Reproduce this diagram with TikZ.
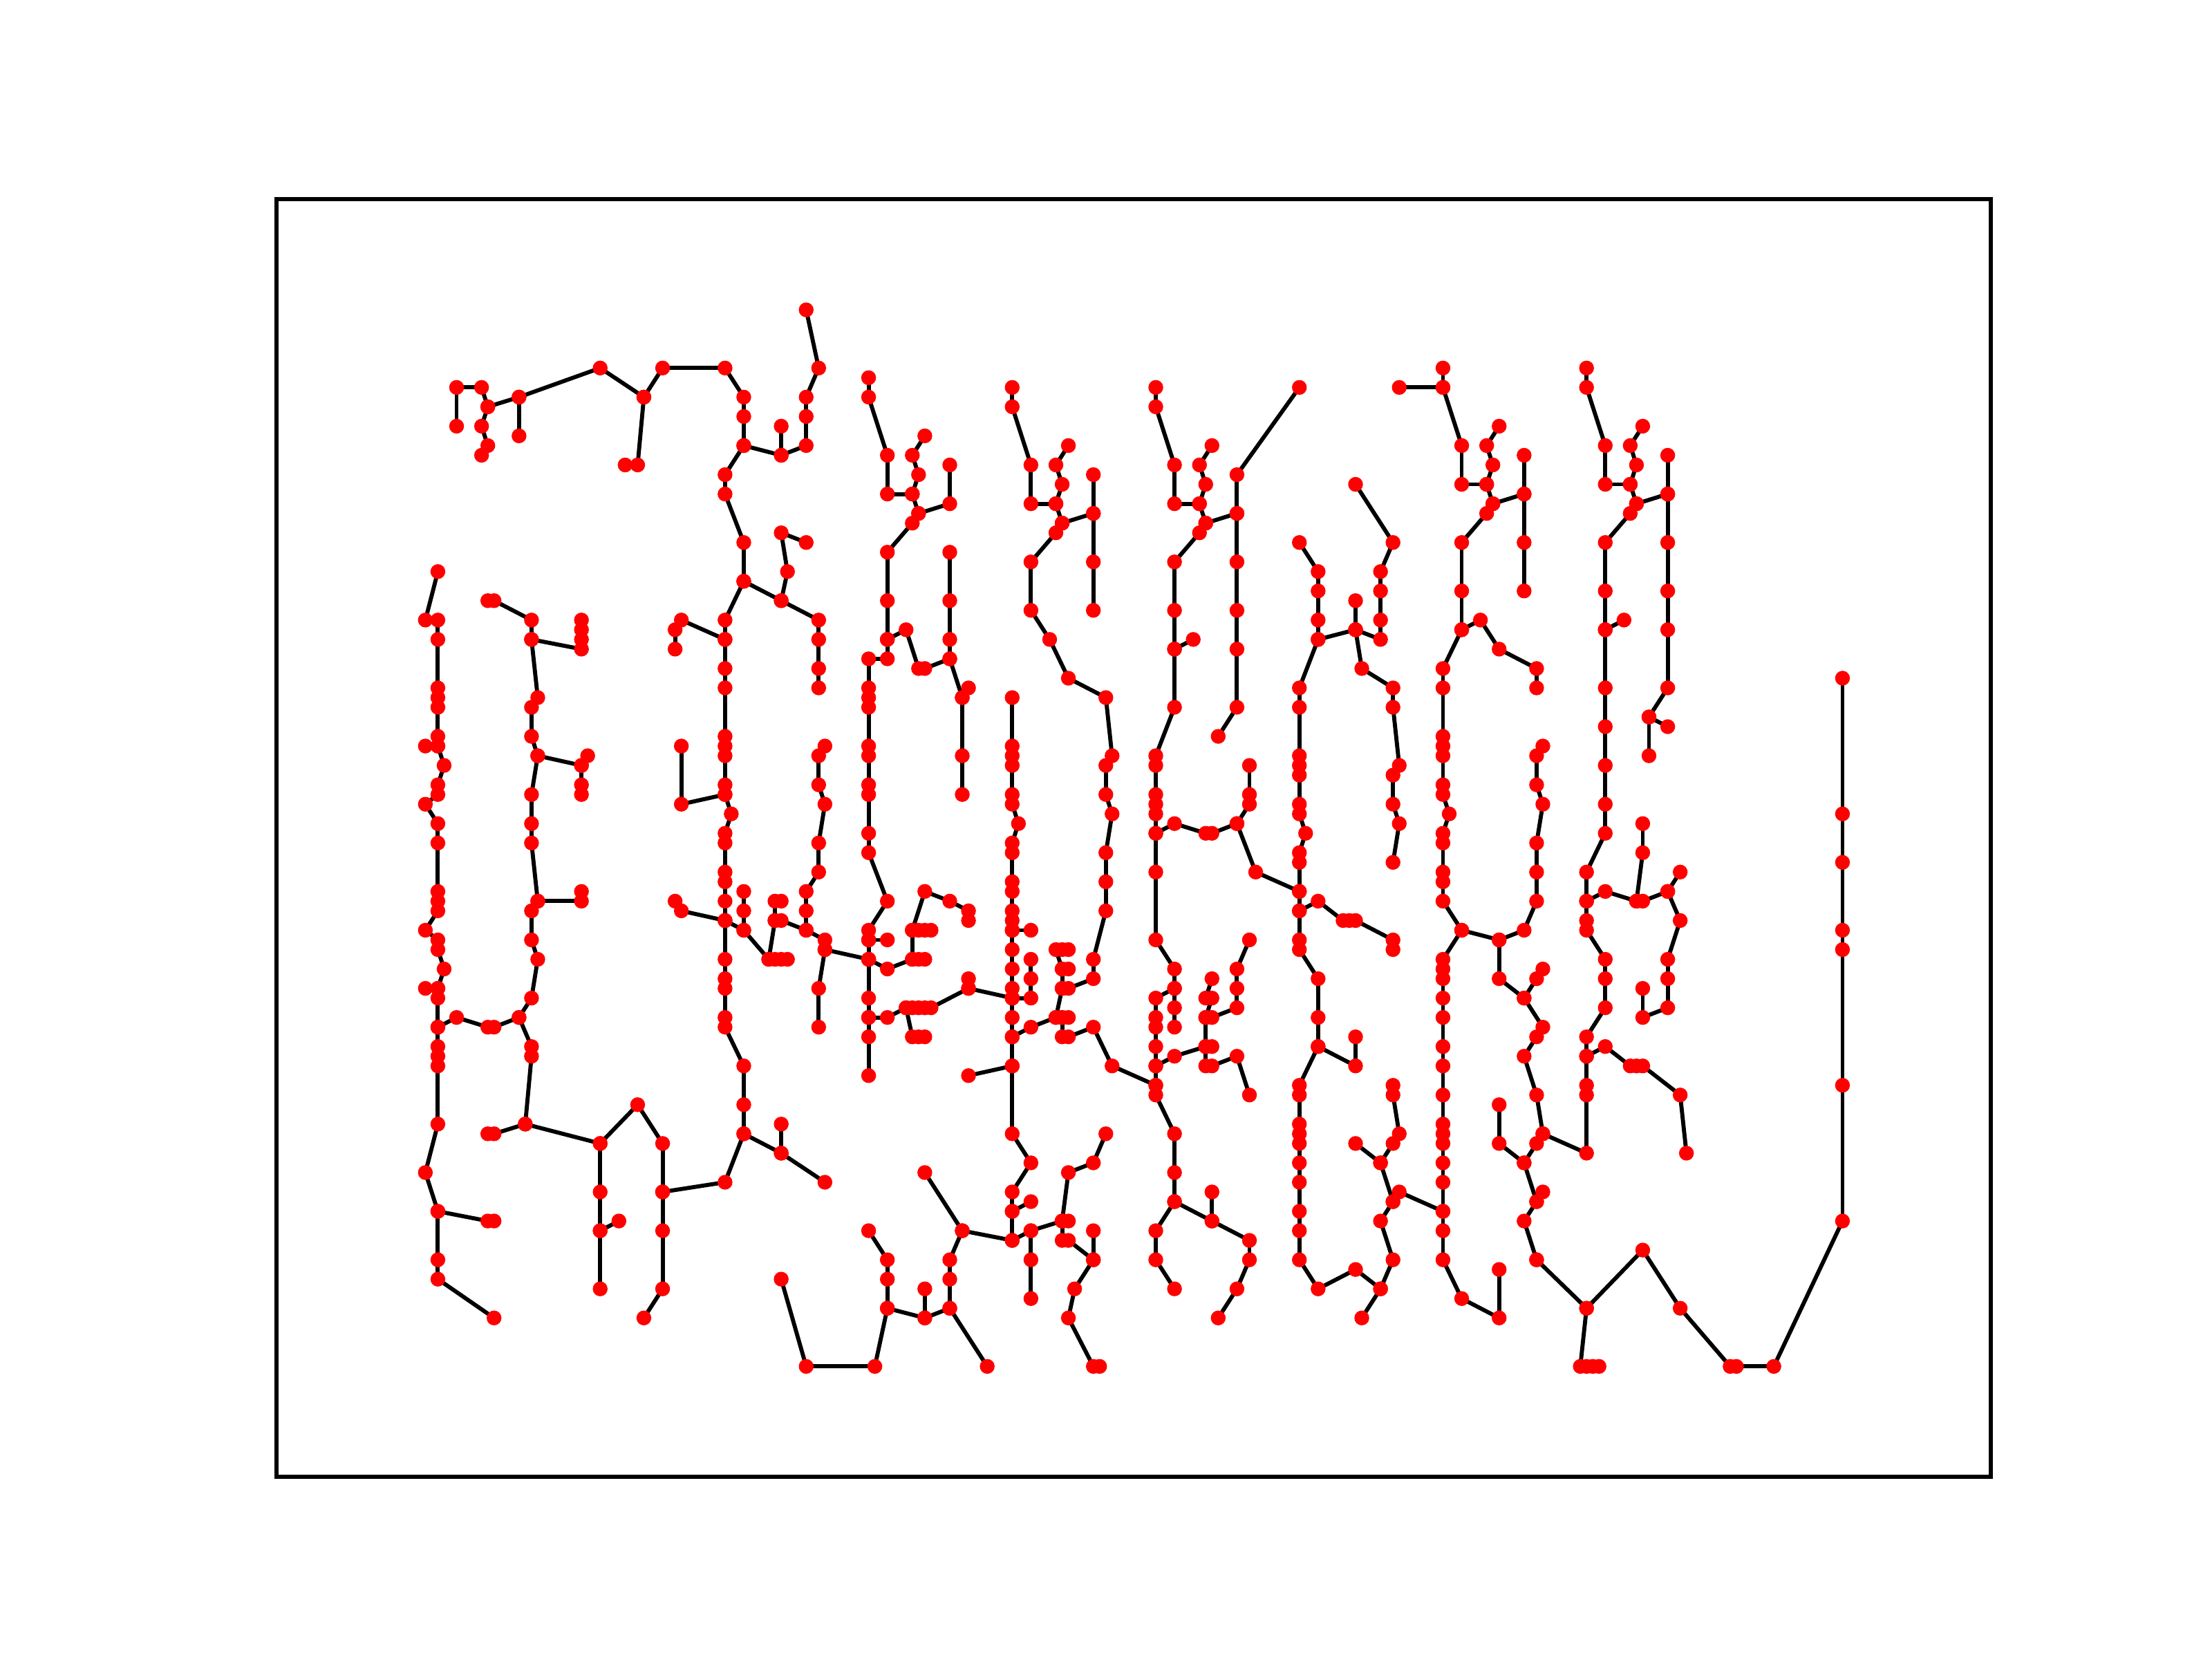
\documentclass[tikz,border=0pt]{standalone}
\definecolor{jred}{RGB}{255,0,0}
\tikzset{mains/.style={x=0.045877cm,y=-0.071222cm},
  pipe/.style={line width=0.85pt,black},
  joint/.style={fill=jred}}

\begin{document}
\begin{tikzpicture}[mains]
    \useasboundingbox (-68.14,-31.97) rectangle (286.19,139.22);
    \def\jr{1.55pt}
    \def\network{%
      % west
      {5/12,5/8,9/8,10/10,9/12,10/14,9/15},
      {10/10,15/9,15/13},
      {15/9,28/6,35/9,34/16,32/16},
      {35/9,38/6,48/6,51/9,51/11,51/14,57/15,57/12},
      {57/15,61/14,61/11,61/9,63/6,61/0},
      {51/14,48/17,48/19,51/24,51/28,57/30,58/27,57/23,61/24},
      {57/30,63/32,63/34,63/37,63/39},
      {51/28,48/32,48/34,41/32,40/33,40/35},
      {48/34,48/37,48/39,48/44,48/45,48/46,48/49,48/50,49/52,48/54,48/55,48/58,48/59,48/61,48/63,48/67,48/69,48/70,48/73,48/74,51/78,51/82,51/85,48/90,38/91,38/86,34/82,28/86,16/84,17/77,17/76,15/73},
      {48/50,41/51,41/45},
      {48/63,41/62,40/61},
      {48/63,51/64,51/62,51/60},
      {51/64,55/67,56/67,57/67,58/67},
      {55/67,56/63,56/61,57/61},
      {56/63,57/63,61/64},
      {51/85,57/87,57/84},
      {57/87,64/90},
      {16/84,11/85,10/85},
      {28/86,28/91,28/95,28/101},
      {28/95,31/94},
      {38/91,38/95,38/101,35/104},
      {2/27,0/32,2/32,2/34,2/39,2/40,2/41,2/44,2/45,3/47,2/49,2/50,0/51,2/53,2/55,2/60,2/61,2/62,0/64,2/65,2/66,3/68,2/70,2/71,2/74,2/76,2/77,2/78,2/84,0/89,2/93,2/98,2/100,11/104},
      {2/45,0/45},
      {2/70,0/70},
      {2/93,10/94,11/94},
      {2/74,5/73,10/74,11/74,15/73,17/71,18/67,17/65,17/62,18/61,17/55,17/53,17/50,18/46,17/44,17/41,18/40,17/34,17/32,11/30,10/30},
      {17/34,25/35,25/34,25/33,25/32},
      {18/46,25/47,26/46},
      {25/47,25/49,25/50},
      {18/61,25/61,25/60},
      % centre west
      {64/45,63/46,63/49,64/51,63/55,63/58,61/60,61/62,61/64,64/65,64/66,71/67},
      {64/66,63/70,63/74},
      {71/7,71/9,74/15,74/19,78/19,79/17,78/15,80/13},
      {78/19,79/21,84/20,84/16},
      {79/21,78/22,74/25,74/30,74/34,74/36,71/36,71/39,71/40,71/41,71/45,71/46,71/49,71/50,71/54,71/56,74/61,71/64,71/65,71/67,71/71,71/73,71/75,71/79},
      {74/34,77/33,79/37,80/37,84/36,84/34,84/30,84/25},
      {84/36,86/40,86/46,86/50},
      {86/40,87/39},
      {71/65,74/65},
      {71/67,74/68,78/67,79/67,80/67},
      {78/67,78/64,79/64,80/64,81/64},
      {78/64,80/60,84/61,87/62,87/63},
      {71/73,74/73,77/72,78/72,79/72,80/72,81/72,87/70,87/69},
      {87/70,94/71},
      {77/72,78/75,79/75,80/75},
      % centre
      {94/8,94/10,97/16,97/20,101/20,102/18,101/16,103/14},
      {101/20,102/22,107/21,107/17},
      {107/21,107/26,107/31},
      {102/22,101/23,97/26,97/31,100/34,103/38,109/40,110/46,109/47,109/50,110/52,109/56,109/59,109/62,107/67,107/69,103/70,102/70,102/68,101/66,102/66,103/66},
      {102/68,103/68},
      {102/70,101/73,102/73,103/73},
      {101/73,97/74,94/75},
      {102/73,102/75,103/75,107/74,110/78,117/80},
      {94/40,94/45,94/46,94/47,94/50,94/51,95/53,94/55,94/56,94/59,94/60,94/62,94/63,94/64,94/66,94/68,94/70,94/71,94/73,94/75,94/78,94/85,97/88,94/91,94/93,94/96},
      {94/64,97/64},
      {94/71,97/71,97/69,97/67},
      {94/78,87/79},
      {94/93,97/92},
      {57/100,61/109,72/109,74/103,74/100,74/98,71/95},
      {74/103,80/104,80/101},
      {80/104,84/103,84/100,84/98,86/95,80/89},
      {84/103,90/109},
      {86/95,94/96,97/95,97/98,97/102},
      {97/95,102/94,103/94},
      {102/94,103/89,107/88,109/85},
      {102/94,102/96,103/96,107/98,107/95},
      {107/98,104/101,103/104,107/109,108/109},
      % centre east
      {117/8,117/10,120/16,120/20,124/20,125/18,124/16,126/14},
      {124/20,125/22,130/21,130/17,140/8},
      {130/21,130/26,130/31,130/35,130/41,127/44},
      {125/22,124/23,120/26,120/31,120/35,120/41,117/46,117/47,117/50,117/51,117/52,117/54,117/58,117/65,120/68,120/70,120/72,120/74},
      {120/35,123/34},
      {117/54,120/53,125/54,126/54,130/53,132/51,132/50,132/47},
      {130/53,133/58,140/60},
      {120/70,117/71,117/73,117/74,117/76,117/78,117/80,117/81,120/85,120/89,120/92,117/95,117/98,120/101},
      {117/78,120/77,125/76,126/76},
      {125/76,125/78,126/78,130/77,132/81},
      {120/92,126/94,126/91},
      {126/94,132/96,132/98,130/101,127/104},
      {126/69,125/71,126/71,125/73,126/73,130/72,130/70,130/68,132/65},
      {125/73,125/76},
      {140/24,143/27,143/29,143/32,143/34,149/33,149/30},
      {149/33,153/34,153/32,153/29,153/27,155/24,149/18},
      {149/33,150/37,155/39,155/41,156/47,155/48,155/51,156/53,155/57},
      {143/34,140/39,140/41,140/46,140/47,140/48,140/51,140/52,141/54,140/56,140/57,140/60,140/62,140/65,140/66,143/69,143/73,143/76,140/80,140/81,140/84,140/85,140/86,140/88,140/90,140/93,140/95,140/98,143/101,149/99,153/101,150/104},
      {140/62,143/61,147/63,148/63,149/63,155/65,155/66},
      {143/76,149/78,149/75},
      {153/101,155/98,153/94,155/92,156/91,163/93},
      {155/92,153/88,155/86,156/85,155/81,155/80},
      {153/88,149/86},
      % east
      {156/8,163/8,163/6},
      {163/8,166/14,166/18,170/18,171/16,170/14,172/12},
      {170/18,171/20,176/19,176/15},
      {176/19,176/24,176/29},
      {171/20,170/21,166/24,166/29,166/33,169/32,172/35,178/37,178/39},
      {166/33,163/37,163/39,163/44,163/45,163/46,163/49,163/50,164/52,163/54,163/55,163/58,163/59,163/61,166/64,172/65,176/64,178/61,178/58,178/55,179/51,178/49,178/46,179/45},
      {166/64,163/67,163/68,163/69,163/71,163/73,163/76,163/78,163/81,163/84,163/85,163/86,163/88,163/90,163/93,163/95,163/98,166/102,172/104,172/99},
      {172/65,172/69,176/71,178/69,179/68},
      {176/71,179/74,178/75,176/77,178/81,179/85,178/86,176/88,172/86,172/82},
      {176/88,178/92,179/91},
      {178/92,176/94,178/98},
      {186/6,186/8,189/14,189/18,193/18,194/16,193/14,195/12},
      {193/18,194/20,199/19,199/15},
      {199/19,199/24,199/29,199/33,199/39,196/42,199/43},
      {196/42,196/46},
      {194/20,193/21,189/24,189/29,189/33,192/32},
      {189/33,189/39,189/43,189/47,189/51,189/54,186/58,186/61,186/63,186/64,189/67,189/69,189/72,186/75,186/77,189/76,193/78,194/78,195/78,201/81,202/87},
      {186/77,186/80,186/81,186/87,179/85},
      {186/61,189/60,194/61,195/61,199/60,201/58},
      {199/60,201/63,199/67,199/69,199/72,195/73,195/70},
      {194/61,195/56,195/53},
      {227/38,227/52,227/57,227/64,227/66,227/80,227/94,216/109,210/109,209/109,201/103,195/97,186/103,178/98},
      {186/103,185/109,186/109,187/109,188/109}%
    }
    % pipes
    \foreach \b in \network {
      \foreach \x/\y [remember=\x as \px (initially -1), remember=\y as \py (initially -1)] in \b {
        \coordinate (p\x-\y) at (\x,\y);
        \ifnum\px>-1 \draw[pipe] (p\px-\py) -- (p\x-\y);\fi
      }
    }
    % joints on top
    \foreach \b in \network
      \foreach \x/\y in \b
        \fill[joint] (p\x-\y) circle (\jr);
    \draw[line width=0.8pt] (-23.85,-11.43) rectangle (250.76,120.39);   % axes frame
  \end{tikzpicture}
\end{document}
